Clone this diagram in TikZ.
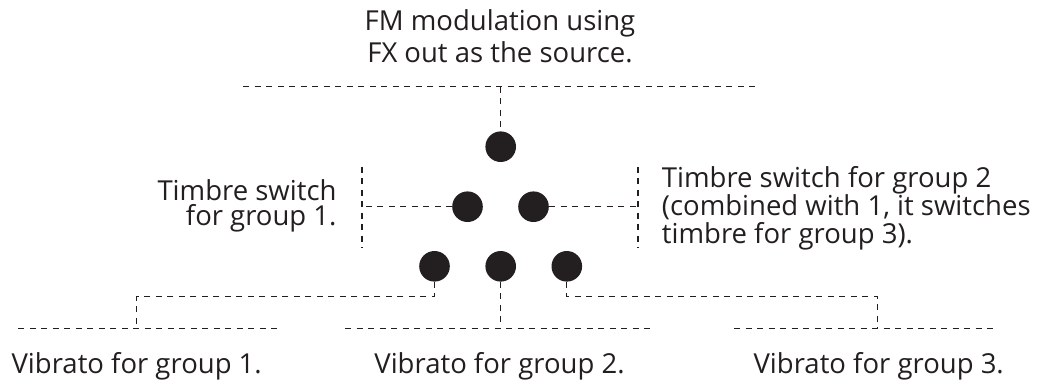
\documentclass[tikz,border=0pt]{standalone}
\usepackage{fontspec}
\setmainfont{Open Sans}
\definecolor{ink}{HTML}{231F20}
\begin{document}
\begin{tikzpicture}[x=1pt,y=-1pt,
  dot/.style={circle,fill=ink,inner sep=0pt,minimum size=30.6pt},
  lead/.style={draw=ink,line width=1.2pt,dash pattern=on 6pt off 5.5pt},
  lbl/.style={inner sep=0pt,text=ink}]
\useasboundingbox (0,0) rectangle (1040,383);
% dots
\node[dot] (a) at (500.7,146.7) {};
\node[dot] (b) at (467.5,206.7) {};
\node[dot] (c) at (533.5,206.7) {};
\node[dot] (d) at (434.5,266.3) {};
\node[dot] (e) at (500.7,266.3) {};
\node[dot] (f) at (566.8,266.3) {};
% labels (base anchor = baseline of last line)
\node[lbl,align=center,anchor=base,font=\fontsize{27.5}{32}\selectfont] (top) at (500,62) {FM modulation using\\FX out as the source.};
\node[lbl,align=right,anchor=base east,font=\fontsize{27.5}{24.5}\selectfont] (t1) at (336.7,225) {Timbre switch\\for group 1.};
\node[lbl,align=left,anchor=base west,font=\fontsize{27.5}{28}\selectfont] (t2) at (661.7,243) {Timbre switch for group 2\\(combined with 1, it switches\\timbre for group 3).};
\node[lbl,anchor=base,font=\fontsize{27.5}{28}\selectfont] (v1) at (136.7,373.3) {Vibrato for group 1.};
\node[lbl,anchor=base,font=\fontsize{27.5}{28}\selectfont] (v2) at (499.5,373.3) {Vibrato for group 2.};
\node[lbl,anchor=base,font=\fontsize{27.5}{28}\selectfont] (v3) at (878.7,373.3) {Vibrato for group 3.};
% top leader
\coordinate (tl) at (243,86.7);
\coordinate (tr) at (757,86.7);
\draw[lead] (tl) -- (tr);
\draw[lead] (a.north |- tl) -- (a.north);
% left leader
\coordinate (lt) at (362,166.7);
\coordinate (lb) at (362,248);
\draw[lead] (lt) -- (lb);
\draw[lead] (b.west) -- (b.west -| lt);
% right leader
\coordinate (rt) at (638,166.7);
\coordinate (rb) at (638,248);
\draw[lead] (rt) -- (rb);
\draw[lead] (c.east) -- (c.east -| rt);
% bottom lines
\coordinate (b1l) at (18.3,328.3);
\coordinate (b1r) at (278.3,328.3);
\coordinate (b2l) at (345,328.3);
\coordinate (b2r) at (655,328.3);
\coordinate (b3l) at (734,328.3);
\coordinate (b3r) at (996,328.3);
\draw[lead] (b1l) -- (b1r);
\draw[lead] (b2l) -- (b2r);
\draw[lead] (b3l) -- (b3r);
\coordinate (k1) at (136.7,296.7);
\coordinate (k3) at (877.7,296.7);
\draw[lead] (d.south) -- (d.south |- k1) -- (k1) -- (k1 |- b1l);
\draw[lead] (e.south) -- (e.south |- b2l);
\draw[lead] (f.south) -- (f.south |- k3) -- (k3) -- (k3 |- b3l);
\end{tikzpicture}
\end{document}
